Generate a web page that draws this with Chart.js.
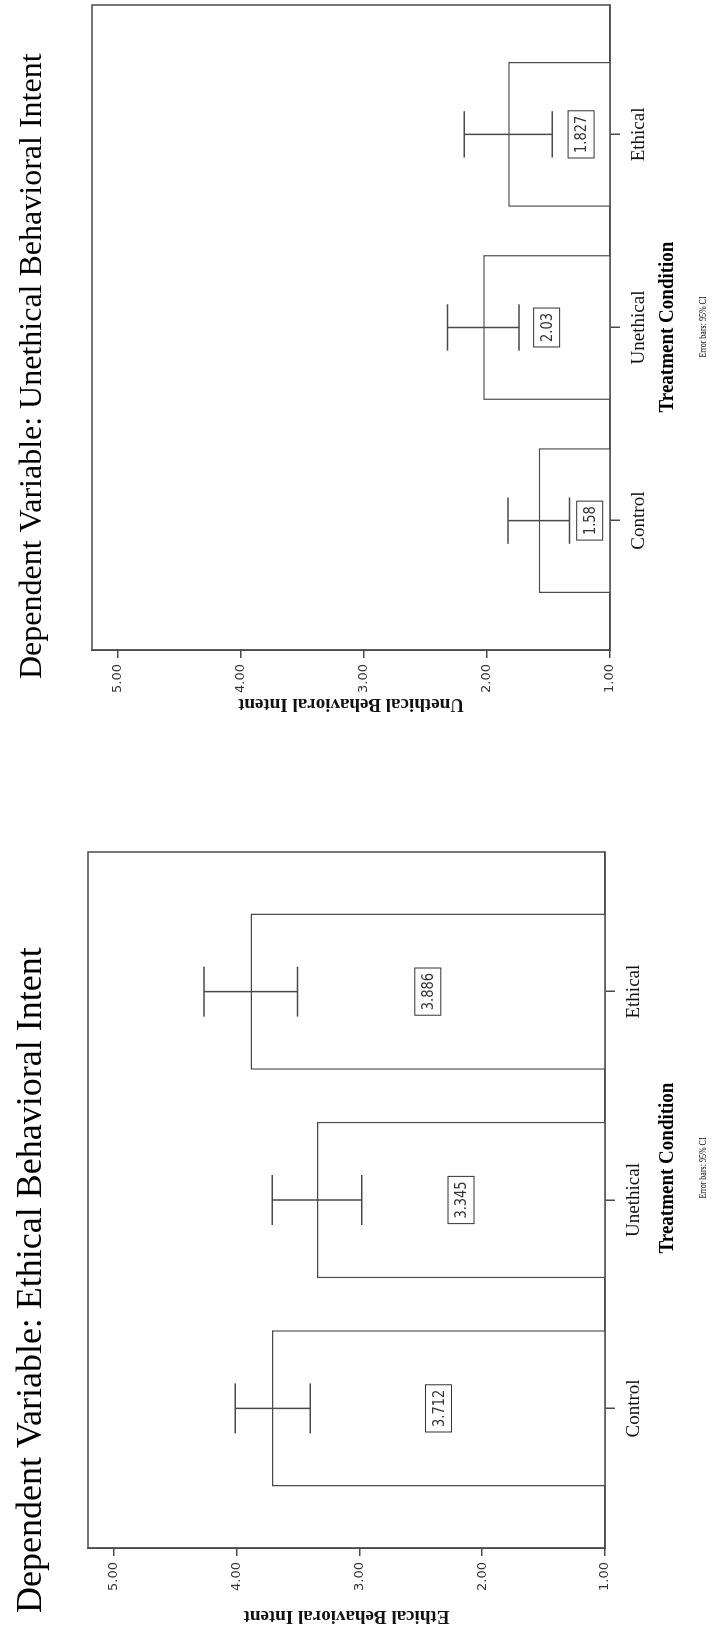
<!DOCTYPE html>
<html>
<head>
<meta charset="utf-8">
<script src="https://cdn.jsdelivr.net/npm/chart.js@4.4.0/dist/chart.umd.min.js"></script>
<style>
  html, body { margin: 0; padding: 0; background: #fff; }
  body { width: 712px; height: 1637px; overflow: hidden; position: relative; }
  /* the page is the landscape figure turned a quarter turn counter-clockwise */
  #sheet { position: absolute; left: 0; top: 1637px; width: 1637px; height: 712px;
           transform-origin: 0 0; transform: rotate(-90deg); }
  #sheet canvas { position: absolute; top: 0; }
</style>
</head>
<body>
<div id="sheet">
  <canvas id="ethical" width="860" height="712" style="left:0"></canvas>
  <canvas id="unethical" width="777" height="712" style="left:860px"></canvas>
</div>
<script>
const categories = ["Control", "Unethical", "Ethical"];
const valueTicks = [1, 2, 3, 4, 5];

// Ethical behavioral intent: means and 95% CI
const ethicalMeans = [3.712, 3.345, 3.886];
const ethicalLower = [3.40, 2.98, 3.505];
const ethicalUpper = [4.01, 3.71, 4.265];

// Unethical behavioral intent: means and 95% CI
const unethicalMeans = [1.58, 2.03, 1.827];
const unethicalLower = [1.33, 1.74, 1.47];
const unethicalUpper = [1.83, 2.32, 2.185];

const ink = "#4a4a4a";

// text squeezed a bit wider than tall, like the scanned figure
function tallText(ctx, txt, x, y, stretch) {
  ctx.save();
  ctx.translate(x, y);
  ctx.scale(1, stretch);
  ctx.fillText(txt, 0, 0);
  ctx.restore();
}

// error bars, value boxes, frame and the free text
function extras(spec) {
  return {
    id: "extras",
    afterDatasetsDraw(chart) {
      const { ctx, chartArea: a, scales: { y } } = chart;
      const bars = chart.getDatasetMeta(0).data;
      const base = y.getPixelForValue(y.min);
      ctx.save();

      ctx.strokeStyle = ink;
      ctx.lineWidth = 1.5;
      bars.forEach((bar, i) => {
        const lo = y.getPixelForValue(spec.lower[i]);
        const hi = y.getPixelForValue(spec.upper[i]);
        const cap = bar.width * 0.16;
        ctx.beginPath();
        ctx.moveTo(bar.x, lo); ctx.lineTo(bar.x, hi);
        ctx.moveTo(bar.x - cap, lo); ctx.lineTo(bar.x + cap, lo);
        ctx.moveTo(bar.x - cap, hi); ctx.lineTo(bar.x + cap, hi);
        ctx.stroke();
      });

      ctx.font = "13px 'DejaVu Sans'";
      ctx.textAlign = "center";
      ctx.textBaseline = "middle";
      bars.forEach((bar, i) => {
        const txt = String(spec.means[i]);
        const boxH = 26;
        const lo = y.getPixelForValue(spec.lower[i]);
        let cy = (bar.y + base) / 2;
        // move the box below the error bar when they would overlap
        if (cy - boxH / 2 < lo) cy = (base + lo) / 2;
        const w = ctx.measureText(txt).width + 10;
        ctx.fillStyle = "#fff";
        ctx.fillRect(bar.x - w / 2, cy - boxH / 2, w, boxH);
        ctx.strokeStyle = "#333";
        ctx.lineWidth = 1;
        ctx.strokeRect(bar.x - w / 2, cy - boxH / 2, w, boxH);
        ctx.fillStyle = "#333";
        tallText(ctx, txt, bar.x, cy + 1, 1.2);
      });

      ctx.strokeStyle = ink;
      ctx.lineWidth = 1.5;
      ctx.strokeRect(a.left, a.top, a.right - a.left, a.bottom - a.top);
      ctx.restore();
    },
    afterDraw(chart) {
      const ctx = chart.ctx;
      ctx.save();
      ctx.fillStyle = "#000";
      ctx.textBaseline = "alphabetic";
      ctx.textAlign = "left";
      ctx.font = spec.titleSize + "px 'Liberation Serif'";
      ctx.fillText(spec.title, spec.titleX, 41);
      ctx.textAlign = "center";
      ctx.font = "bold 19px 'Liberation Serif'";
      tallText(ctx, "Treatment Condition", spec.xTitleX, 673, 1.12);
      ctx.font = "8px 'Liberation Serif'";
      tallText(ctx, "Error bars: 95% CI", spec.xTitleX, 706, 1.4);
      ctx.restore();
    }
  };
}

function drawPanel(id, spec) {
  return new Chart(document.getElementById(id), {
    type: "bar",
    data: {
      datasets: [{
        data: spec.means.map((v, i) => ({ x: i, y: v })),
        backgroundColor: "#fff",
        borderColor: ink,
        borderWidth: 1.5,
        barPercentage: 0.75,
        categoryPercentage: 1
      }]
    },
    options: {
      responsive: false,
      animation: false,
      devicePixelRatio: 1,
      layout: { padding: { top: spec.top, right: spec.right, left: 0, bottom: 0 } },
      plugins: { legend: { display: false }, tooltip: { enabled: false } },
      scales: {
        x: {
          type: "linear",
          offset: false,
          min: -0.67,
          max: 2.67,
          afterBuildTicks: s => { s.ticks = categories.map((c, i) => ({ value: i })); },
          afterFit: s => { s.height = spec.xAxisHeight; },
          grid: { offset: false, drawOnChartArea: false, tickLength: 10, color: ink, lineWidth: 1.5 },
          border: { color: ink, width: 1.5 },
          ticks: {
            callback: v => categories[v],
            font: { family: "'Liberation Serif'", size: 19 },
            color: "#111",
            padding: 8,
            maxRotation: 0,
            autoSkip: false
          }
        },
        y: {
          min: 1,
          max: 5.21,
          afterBuildTicks: s => { s.ticks = valueTicks.map(v => ({ value: v })); },
          afterFit: s => { s.width = spec.yAxisWidth; },
          grid: { drawOnChartArea: false, tickLength: 8, color: ink, lineWidth: 1.5 },
          border: { color: ink, width: 1.5 },
          ticks: {
            callback: v => v.toFixed(2),
            font: { family: "'DejaVu Sans'", size: 13 },
            color: "#333",
            padding: 6
          },
          title: {
            display: true,
            text: spec.yTitle,
            font: { family: "'Liberation Serif'", size: 19, weight: "bold" },
            color: "#111",
            padding: { top: spec.yTitlePad, bottom: 0 }
          }
        }
      }
    },
    plugins: [extras(spec)]
  });
}

drawPanel("ethical", {
  means: ethicalMeans, lower: ethicalLower, upper: ethicalUpper,
  title: "Dependent Variable: Ethical Behavioral Intent",
  yTitle: "Ethical Behavioral Intent",
  top: 88, right: 75, yAxisWidth: 89, xAxisHeight: 107, yTitlePad: 10,
  titleX: 24, titleSize: 36, xTitleX: 469
});

drawPanel("unethical", {
  means: unethicalMeans, lower: unethicalLower, upper: unethicalUpper,
  title: "Dependent Variable: Unethical Behavioral Intent",
  yTitle: "Unethical Behavioral Intent",
  top: 92, right: 5, yAxisWidth: 127, xAxisHeight: 102, yTitlePad: 62,
  titleX: 98, titleSize: 32, xTitleX: 450
});
</script>
</body>
</html>
